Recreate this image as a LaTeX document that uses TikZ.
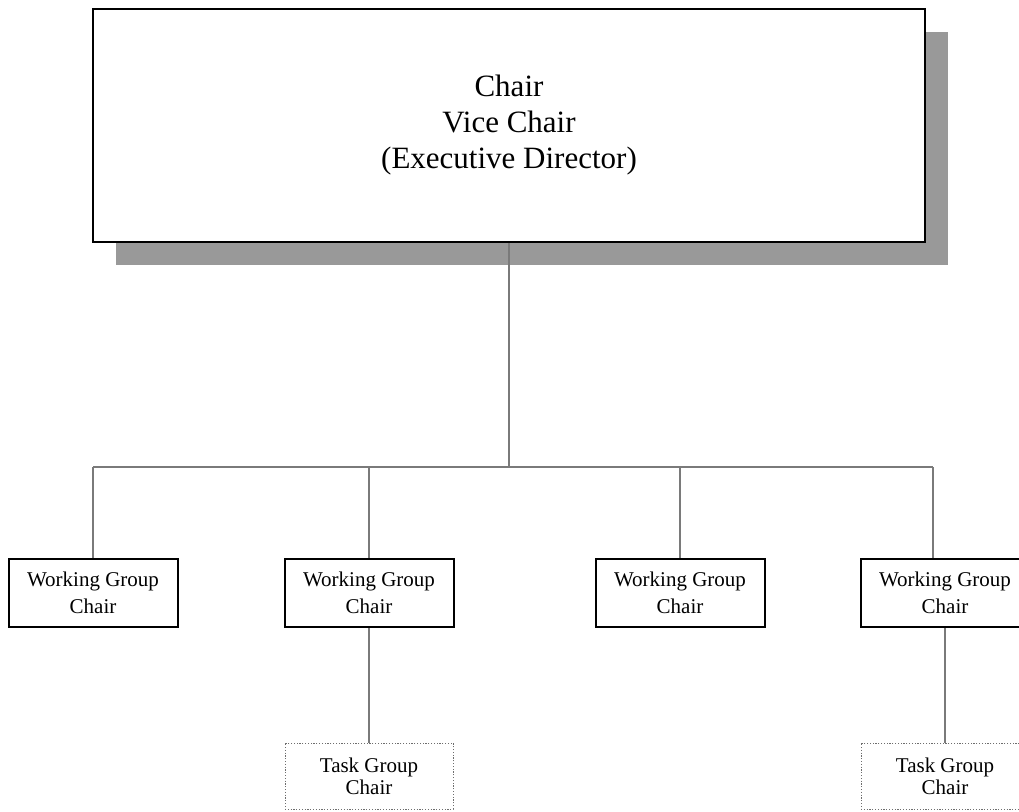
\documentclass[tikz,border=0pt]{standalone}
\usepackage{fontspec}
\setmainfont{Liberation Serif}
\usepackage{xcolor}
\definecolor{ocline}{HTML}{7A7A7A}
\definecolor{ocshadow}{HTML}{999999}
\definecolor{ocdot}{HTML}{6E6E6E}
\usepackage{tikz}
\usetikzlibrary{positioning,shadows}

\begin{document}
\begin{tikzpicture}[
      x=1pt, y=-1pt,
      topbox/.style={draw=black, fill=white, line width=2.2pt,
                  minimum width=832pt, minimum height=233pt, align=center,
                  font=\fontsize{31}{36}\selectfont,
                  drop shadow={shadow xshift=23pt, shadow yshift=-23pt,
                               fill=ocshadow, opacity=1}},
      wg/.style={draw=black, fill=white, line width=2pt,
                  minimum width=169pt, minimum height=68pt, align=center,
                  font=\fontsize{21}{27}\selectfont},
      tg/.style={draw=ocdot, fill=white, line width=1pt,
                  dash pattern=on 1.2pt off 1.6pt,
                  minimum width=168pt, minimum height=66pt, align=center,
                  font=\fontsize{21}{22}\selectfont},
      ln/.style={draw=ocline, line width=1.5pt},
    ]
    \useasboundingbox (0,0) rectangle (1019,811);
    \clip (0,0) rectangle (1019,811);

    \node[topbox] (top) at (509,125.5) {Chair\\Vice Chair\\(Executive Director)};

    \node[wg] (wga) at (93,593)  {Working Group\\Chair};
    \node[wg] (wgb) at (369,593) {Working Group\\Chair};
    \node[wg] (wgc) at (680,593) {Working Group\\Chair};
    \node[wg] (wgd) at (945,593) {Working Group\\Chair};

    \node[tg] (tga) at (369,776) {Task Group\\Chair};
    \node[tg] (tgd) at (945,776) {Task Group\\Chair};

    % bus between the chair and the working groups
    \coordinate (busl) at (93,467);
    \coordinate (busr) at (933,467);
    \draw[ln] (top.south) -- (top.south |- busl);
    \draw[ln] (busl) -- (busr);
    \draw[ln] (busl) -- (wga.north);
    \draw[ln] (wgb.north |- busl) -- (wgb.north);
    \draw[ln] (wgc.north |- busl) -- (wgc.north);
    \draw[ln] (busr) -- (busr |- wgd.north);

    \draw[ln] (wgb.south) -- (tga.north);
    \draw[ln] (wgd.south) -- (tgd.north);

  \end{tikzpicture}
\end{document}
